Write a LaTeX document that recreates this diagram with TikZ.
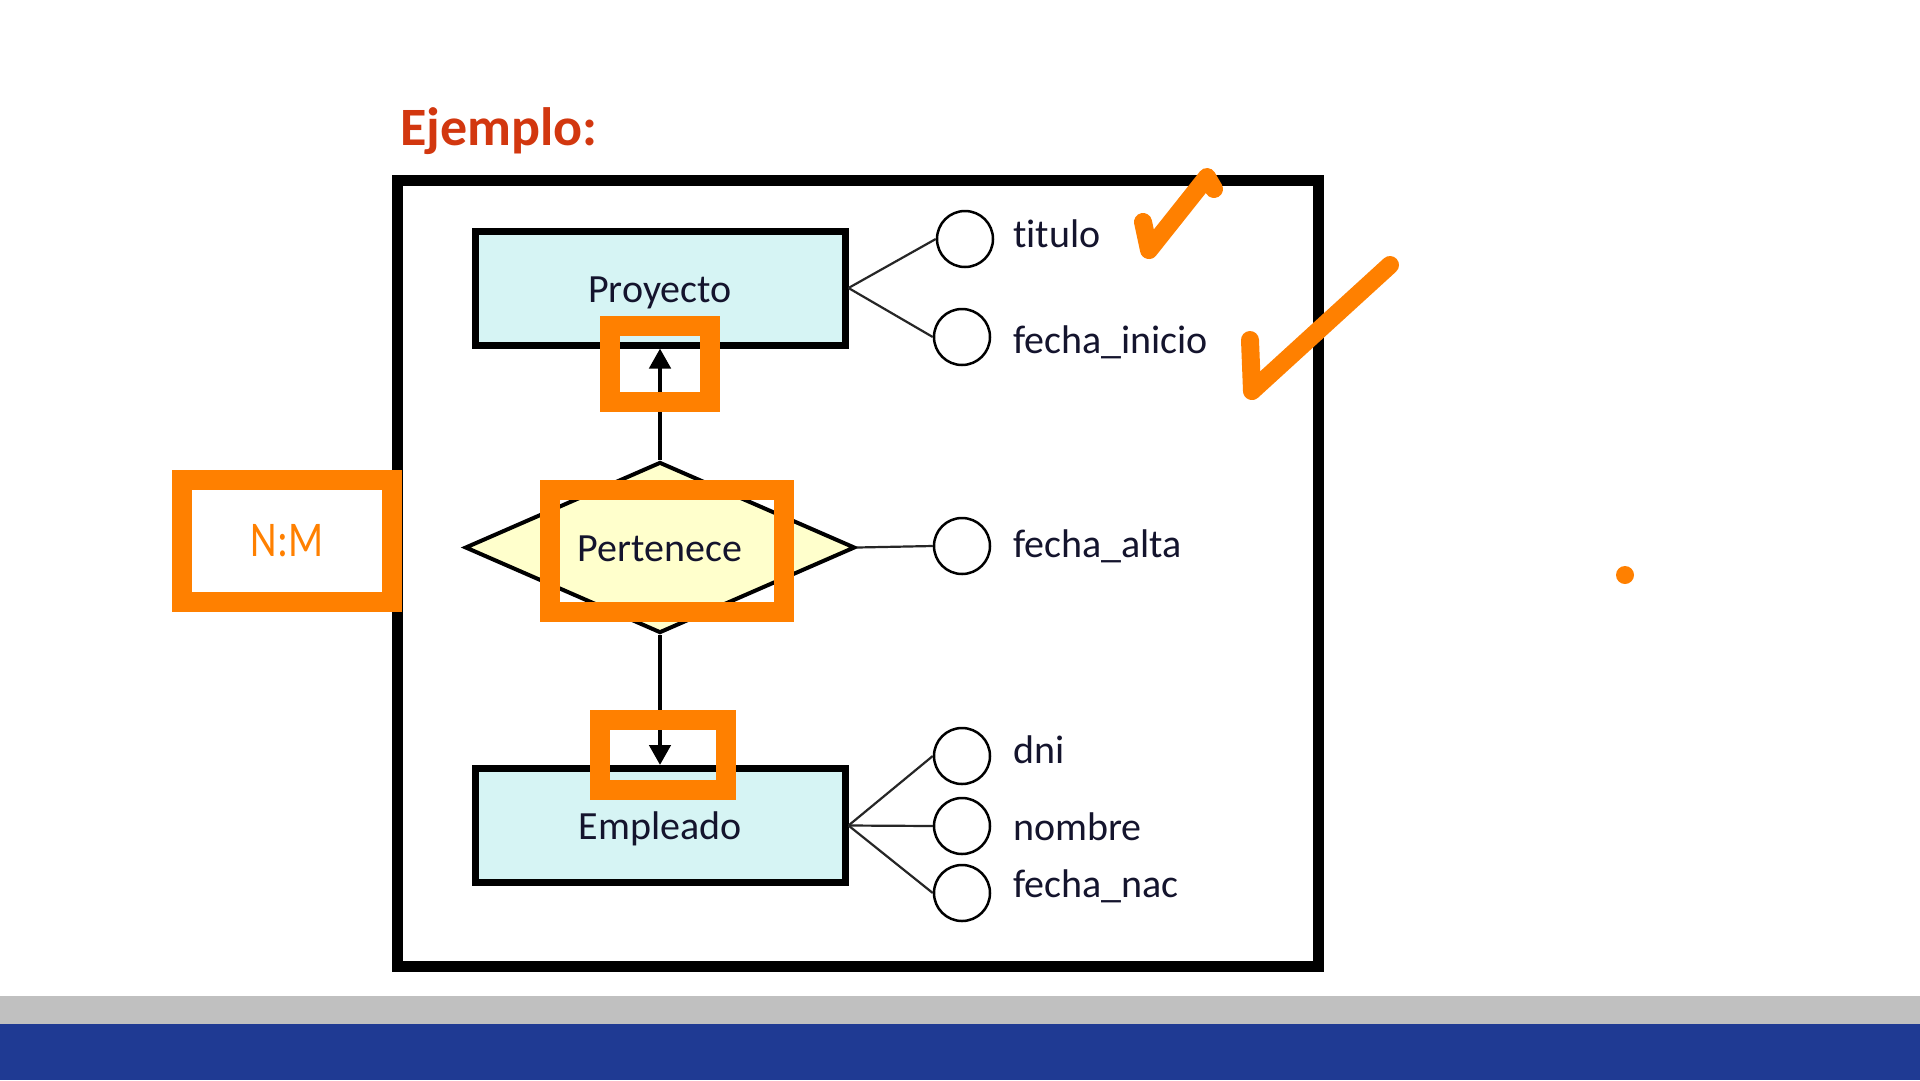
\documentclass[tikz,border=0pt]{standalone}
\usepackage{fontspec}
\setmainfont{Carlito}[Ligatures={NoCommon,NoDiscretionary}]
\usepackage{graphicx}
\usetikzlibrary{shapes.geometric,arrows.meta}

\definecolor{titlered}{RGB}{210,55,15}
\definecolor{markorange}{RGB}{255,128,0}
\definecolor{entityfill}{RGB}{214,244,244}
\definecolor{relfill}{RGB}{255,255,204}
\definecolor{inkdark}{RGB}{20,20,45}
\definecolor{bargrey}{RGB}{192,192,192}
\definecolor{barblue}{RGB}{31,58,147}

\begin{document}
\begin{tikzpicture}[x=1pt,y=-1pt,
  labelfont/.style={font=\fontsize{40}{48}\selectfont, text=inkdark},
  entity/.style={draw=black, line width=7pt, fill=entityfill, labelfont,
    minimum width=370pt, minimum height=114pt, inner sep=0pt,
    text height=30pt, text depth=2pt},
  relation/.style={diamond, aspect=2, draw=black, line width=4pt, fill=relfill,
    labelfont, minimum width=390pt, minimum height=171pt, inner sep=0pt,
    text height=29pt, text depth=2pt},
  attr/.style={circle, draw=black, line width=2.5pt, minimum size=56pt, inner sep=0pt},
  attrlabel/.style={labelfont, anchor=base west, inner sep=0pt},
  attrlink/.style={draw=black!85, line width=2.2pt},
  card/.style={draw=black, line width=4.5pt, -{Triangle[length=20pt,width=21pt]}},
  hlbox/.style={draw=markorange, line width=20pt, inner sep=0pt},
  tick/.style={draw=markorange, line width=18pt, line cap=round, line join=round},
]
\useasboundingbox (0,0) rectangle (1920,1080);
\fill[white] (0,0) rectangle (1920,1080);

% footer bands
\fill[bargrey] (0,996) rectangle (1920,1024);
\fill[barblue] (0,1024) rectangle (1920,1080);

% heading
\node[anchor=base west, inner sep=0pt, text=titlered,
      font=\fontsize{54}{64}\selectfont\bfseries] (title) at (400,145) {Ejemplo:};

% frame around the schema
\draw[line width=11pt] (397,180) rectangle (1318,966);

% entities and relationship
\node[entity] (proy) at (660,288) {Proyecto};
\node[entity] (emp) at (660,825.5) {Empleado};
\node[relation] (per) at (660,547.5) {Pertenece};

\draw[card] (per.north) -- (proy.south);
\draw[card] (per.south) -- (emp.north);

% attributes
\node[attr] (titulo) at (965,239) {};
\node[attr] (finicio) at (962,337) {};
\node[attr] (falta) at (962,546) {};
\node[attr] (dni) at (962,756) {};
\node[attr] (nombre) at (962,826) {};
\node[attr] (fnac) at (962,893) {};

\draw[attrlink] (proy.east) -- (titulo.west);
\draw[attrlink] (proy.east) -- (finicio.west);
\draw[attrlink] (per.east) -- (falta.west);
\draw[attrlink] (emp.east) -- (dni.west);
\draw[attrlink] (emp.east) -- (nombre.west);
\draw[attrlink] (emp.east) -- (fnac.west);

\node[attrlabel] (ltitulo) at (1013,247) {titulo};
\node[attrlabel] (lfinicio) at (1013,353) {fecha\_inicio};
\node[attrlabel] (lfalta) at (1013,557) {fecha\_alta};
\node[attrlabel] (ldni) at (1013,763) {dni};
\node[attrlabel] (lnombre) at (1013,840) {nombre};
\node[attrlabel] (lfnac) at (1013,897) {fecha\_nac};

% highlight boxes
\node[hlbox, minimum width=100pt, minimum height=76pt] (hlup) at (660,364) {};
\node[hlbox, minimum width=234pt, minimum height=122pt] (hlrel) at (667,551) {};
\node[hlbox, minimum width=126pt, minimum height=70pt] (hldown) at (663,755) {};
\node[hlbox, fill=white, minimum width=210pt, minimum height=122pt, text=markorange,
      font=\fontsize{50}{60}\selectfont, text height=32pt, text depth=2pt]
      (nm) at (287,541) {\scalebox{0.82}[1]{N:M}};

% hand-drawn ticks and dot
\draw[tick] (1143,222) -- (1149,250) -- (1207,177) -- (1214,189);
\draw[tick] (1250,340) -- (1252,391) -- (1390,265);
\fill[markorange] (1625,575) circle (9pt);
\end{tikzpicture}
\end{document}
